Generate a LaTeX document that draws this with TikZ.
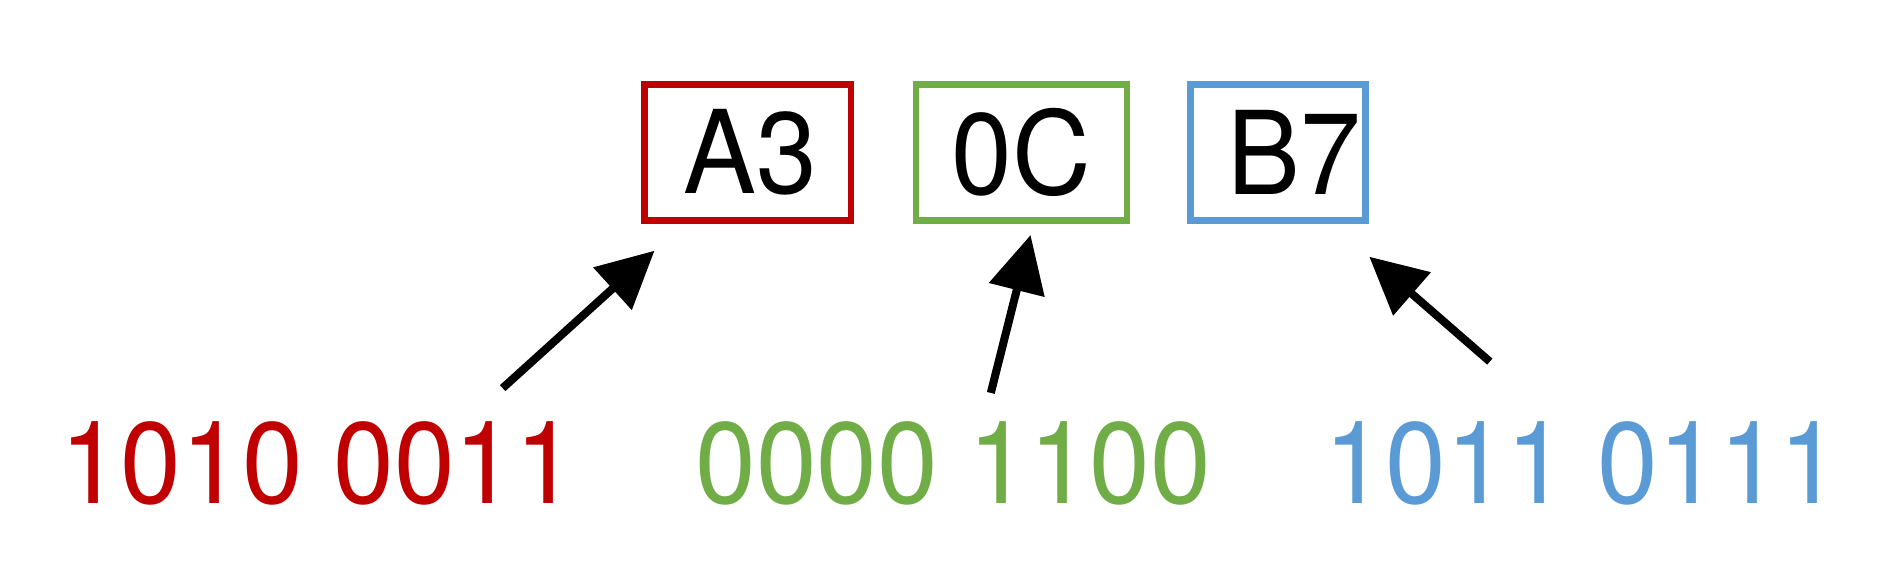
\documentclass[tikz,border=0pt]{standalone}
\usepackage{fontspec}
\setmainfont{TeX Gyre Heros}
\usepackage{tikz}
\usepackage{graphicx}
\usepackage{xcolor}
\usetikzlibrary{arrows.meta}

\definecolor{hexred}{HTML}{C00000}
\definecolor{hexgreen}{HTML}{70AD47}
\definecolor{hexblue}{HTML}{5B9BD5}
\newcommand{\tall}[1]{\scalebox{1.03}[1.09]{#1}}

\begin{document}
\begin{tikzpicture}[x=0.01cm, y=-0.01cm,
  hexbox/.style={draw, line width=1.6pt, minimum height=1.13cm, inner sep=0pt,
    font=\fontsize{25}{30}\selectfont},
  bits/.style={anchor=base, font=\fontsize{25}{30}\selectfont},
  pointer/.style={-{Triangle[length=0.47cm,width=0.46cm]}, line width=1.9pt, black}]
  \useasboundingbox (0,0) rectangle (1568,470);
  % byte boxes
  \foreach \n/\x/\w/\c/\s in {A3/620.5/1.71/hexred/0.04,0C/847.5/1.75/hexgreen/0,B7/1060.5/1.45/hexblue/0.26} {
    \node [hexbox, draw=\c, minimum width=\w cm] (\n) at (\x,126.5) {\hspace*{\s cm}\tall{\n}};
  }
  % binary strings
  \foreach \n/\x/\c/\t in {binA/264/hexred/1010 0011,binB/791/hexgreen/0000 1100,binC/1313/hexblue/1011 0111} {
    \node [bits, text=\c] (\n) at (\x,418) {\tall{\t}};
  }
  \coordinate (fromA) at (417,322);
  \coordinate (toA) at (543,208);
  \coordinate (fromB) at (822,326);
  \coordinate (toB) at (855,195);
  \coordinate (fromC) at (1236,300);
  \coordinate (toC) at (1136,213);
  \draw [pointer] (fromA)--(toA);
  \draw [pointer] (fromB)--(toB);
  \draw [pointer] (fromC)--(toC);
\end{tikzpicture}
\end{document}
